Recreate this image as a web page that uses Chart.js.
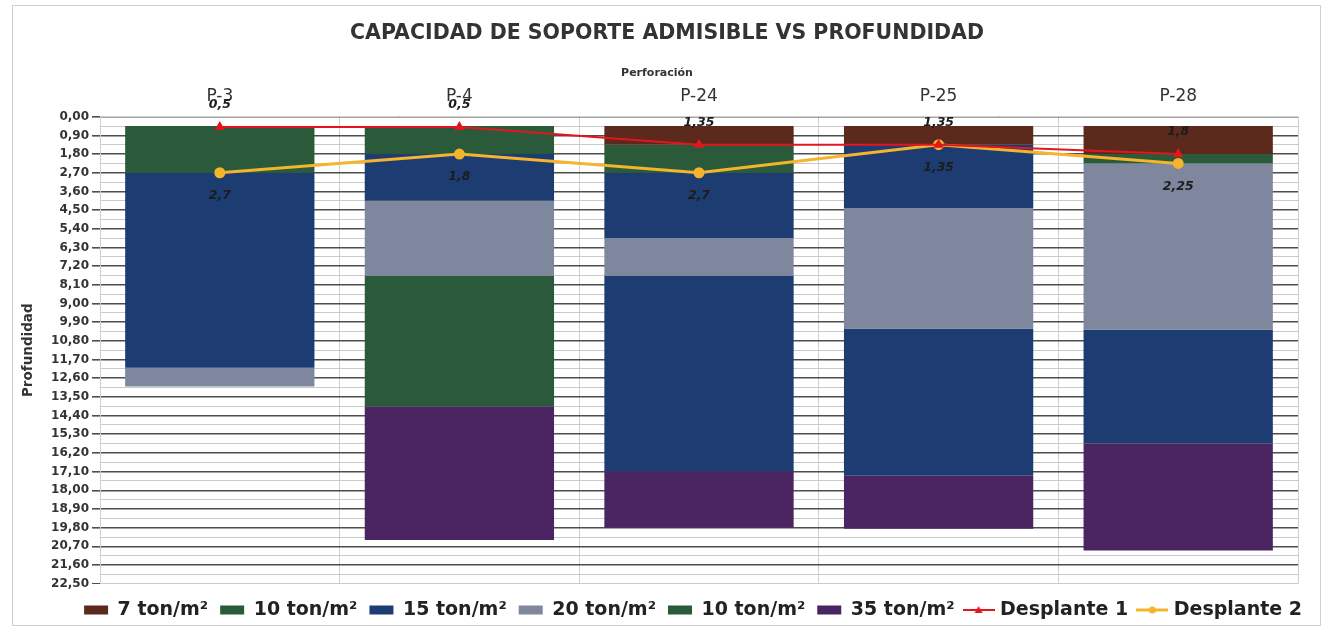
<!DOCTYPE html>
<html lang="es">
<head>
<meta charset="utf-8">
<title>Capacidad de soporte admisible vs profundidad</title>
<script src="https://cdn.jsdelivr.net/npm/chart.js@4.4.1/dist/chart.umd.min.js"></script>
<style>
  html, body { margin: 0; padding: 0; background: #fff; }
  #contenedor { width: 1328px; height: 633px; }
</style>
</head>
<body>
<div id="contenedor"><canvas id="graficoCapacidad"></canvas></div>
<script>
const perforaciones = ['P-3', 'P-4', 'P-24', 'P-25', 'P-28'];

// Tramos de cada estrato por perforación: [profundidad inicial, profundidad final] en m
const estrato7 = [null, null, [0.45, 1.35], [0.45, 1.35], [0.45, 1.8]];
const estrato10 = [[0.45, 2.7], [0.45, 1.8], [1.35, 2.7], null, [1.8, 2.25]];
const estrato15 = [[2.7, 12.1], [1.8, 4.05], [2.7, 5.85], [1.35, 4.4], null];
const estrato20 = [[12.1, 13.0], [4.05, 7.65], [5.85, 7.65], [4.4, 10.2], [2.25, 10.25]];
const estrato10b = [null, [7.65, 13.95], null, null, null];
const estrato15b = [null, null, [7.65, 17.1], [10.2, 17.3], [10.25, 15.75]];
const estrato35 = [null, [13.95, 20.4], [17.1, 19.8], [17.3, 19.85], [15.75, 20.9]];

// Profundidad de desplante (m)
const desplante1 = [0.5, 0.5, 1.35, 1.35, 1.8];
const desplante2 = [2.7, 1.8, 2.7, 1.35, 2.25];

const colores = {
    c7: '#5b2a1d',
    c10: '#2b5a3a',
    c15: '#1d3d72',
    c20: '#7e879e',
    c35: '#4b2561',
    d1: '#e3161e',
    d2: '#f4b42c'
};

const fuente = '"DejaVu Sans", Verdana, sans-serif';

function coma(v) {
    return String(v).replace('.', ',');
}

// Muestra de línea con marcador para la leyenda
function muestraLinea(color, grosor, marcador) {
    const c = document.createElement('canvas');
    c.width = 32;
    c.height = 12;
    const g = c.getContext('2d');
    g.strokeStyle = color;
    g.lineWidth = grosor;
    g.beginPath();
    g.moveTo(0, 6);
    g.lineTo(32, 6);
    g.stroke();
    g.fillStyle = color;
    g.beginPath();
    if (marcador === 'triangle') {
        g.moveTo(16, 2);
        g.lineTo(20, 9);
        g.lineTo(12, 9);
        g.closePath();
    } else {
        g.arc(16, 6, 3.5, 0, Math.PI * 2);
    }
    g.fill();
    return c;
}

function barra(label, datos, color, enLeyenda) {
    return {
        type: 'bar',
        label: label,
        data: datos,
        backgroundColor: color,
        borderWidth: 0,
        barPercentage: 0.79,
        categoryPercentage: 1,
        order: 2,
        enLeyenda: enLeyenda
    };
}

// Etiquetas de valor de los desplantes
const etiquetasDesplante = {
    id: 'etiquetasDesplante',
    afterDatasetsDraw(chart) {
        const ctx = chart.ctx;
        ctx.save();
        ctx.font = 'italic bold 12.5px ' + fuente;
        ctx.fillStyle = '#1c1c1c';
        ctx.textAlign = 'center';
        ctx.textBaseline = 'middle';
        chart.data.datasets.forEach((ds, i) => {
            if (ds.posEtiqueta === undefined) return;
            const meta = chart.getDatasetMeta(i);
            meta.data.forEach((p, j) => {
                ctx.fillText(coma(ds.data[j]), p.x, p.y + ds.posEtiqueta);
            });
        });
        ctx.restore();
    }
};

// Marco exterior y título del eje de perforaciones
const marco = {
    id: 'marco',
    beforeDraw(chart) {
        const ctx = chart.ctx;
        ctx.save();
        ctx.fillStyle = '#ffffff';
        ctx.fillRect(0, 0, chart.width, chart.height);
        ctx.strokeStyle = '#cfcfcf';
        ctx.lineWidth = 1;
        ctx.strokeRect(12.5, 5.5, 1308, 620);
        ctx.restore();
    },
    afterDraw(chart) {
        const ctx = chart.ctx;
        ctx.save();
        ctx.font = 'bold 11px ' + fuente;
        ctx.fillStyle = '#333333';
        ctx.textAlign = 'center';
        ctx.textBaseline = 'middle';
        ctx.fillText('Perforación', 657, 73);
        ctx.restore();
    }
};

const ctx = document.getElementById('graficoCapacidad');

new Chart(ctx, {
    data: {
        labels: perforaciones,
        datasets: [
            barra('7 ton/m²', estrato7, colores.c7, true),
            barra('10 ton/m²', estrato10, colores.c10, true),
            barra('15 ton/m²', estrato15, colores.c15, true),
            barra('20 ton/m²', estrato20, colores.c20, true),
            barra('10 ton/m²', estrato10b, colores.c10, true),
            barra('35 ton/m²', estrato35, colores.c35, true),
            {
                type: 'line',
                label: 'Desplante 1',
                data: desplante1,
                borderColor: colores.d1,
                backgroundColor: colores.d1,
                borderWidth: 2,
                pointStyle: 'triangle',
                pointRadius: 4,
                pointHoverRadius: 4,
                order: 0,
                posEtiqueta: -22,
                muestra: muestraLinea(colores.d1, 2, 'triangle')
            },
            {
                type: 'line',
                label: 'Desplante 2',
                data: desplante2,
                borderColor: colores.d2,
                backgroundColor: colores.d2,
                borderWidth: 3,
                pointStyle: 'circle',
                pointRadius: 4,
                pointHoverRadius: 4,
                order: 1,
                posEtiqueta: 23,
                muestra: muestraLinea(colores.d2, 3, 'circle')
            },
            barra('15 ton/m²', estrato15b, colores.c15, false)
        ]
    },
    options: {
        responsive: true,
        maintainAspectRatio: false,
        animation: false,
        layout: { padding: { left: 20, right: 14, top: 0, bottom: 3.5 } },
        plugins: {
            title: {
                display: true,
                text: 'CAPACIDAD DE SOPORTE ADMISIBLE VS PROFUNDIDAD',
                color: '#333333',
                font: { family: fuente, size: 20.5, weight: 'bold' },
                padding: { top: 21, bottom: 8 }
            },
            legend: {
                position: 'bottom',
                align: 'end',
                title: { display: true, text: '', font: { size: 2 }, padding: { top: 2.4, bottom: 0 } },
                labels: {
                    usePointStyle: true,
                    pointStyleWidth: 24,
                    boxHeight: 9,
                    padding: 12,
                    color: '#222222',
                    font: { family: fuente, size: 19, weight: 'bold' },
                    generateLabels(chart) {
                        const items = Chart.defaults.plugins.legend.labels.generateLabels(chart);
                        return items.filter(it => {
                            const ds = chart.data.datasets[it.datasetIndex];
                            return ds.type === 'line' || ds.enLeyenda;
                        }).sort((a, b) => a.datasetIndex - b.datasetIndex).map(it => {
                            const ds = chart.data.datasets[it.datasetIndex];
                            it.pointStyle = ds.type === 'line' ? ds.muestra : 'rect';
                            it.lineWidth = 0;
                            return it;
                        });
                    }
                }
            },
            tooltip: { enabled: false }
        },
        scales: {
            x: {
                position: 'top',
                stacked: true,
                offset: true,
                grid: { offset: true, color: '#cfcfcf', drawTicks: false },
                border: { color: '#cfcfcf' },
                ticks: { color: '#333333', font: { family: fuente, size: 17 }, padding: 10 },
                afterFit(scale) { scale.height = 63.1; }
            },
            y: {
                reverse: true,
                min: 0,
                max: 22.5,
                grid: {
                    tickLength: 8,
                    color: c => (c.index % 2 === 1 || c.index === 0) ? '#c9c9c9' : '#4d4d4d',
                    lineWidth: c => (c.index % 2 === 1 || c.index === 0) ? 1 : 1.6,
                    tickColor: c => c.index % 2 === 1 ? 'rgba(0,0,0,0)' : '#4d4d4d'
                },
                border: { color: '#cfcfcf' },
                ticks: {
                    stepSize: 0.45,
                    autoSkip: false,
                    color: '#333333',
                    padding: 3,
                    font: { family: fuente, size: 12, weight: 'bold' },
                    callback: (v, i) => i % 2 === 0 ? v.toFixed(2).replace('.', ',') : ''
                },
                title: {
                    display: true,
                    text: 'Profundidad',
                    color: '#333333',
                    font: { family: fuente, size: 13.5, weight: 'bold' },
                    padding: { top: 0, bottom: 4 }
                },
                afterFit(scale) { scale.width = 80; }
            },
            // margen derecho del área de trazado
            margenDer: {
                type: 'linear',
                position: 'right',
                display: true,
                grid: { display: false },
                border: { display: false },
                ticks: { display: false },
                afterFit(scale) { scale.width = 16; }
            }
        }
    },
    plugins: [marco, etiquetasDesplante]
});
</script>
</body>
</html>
